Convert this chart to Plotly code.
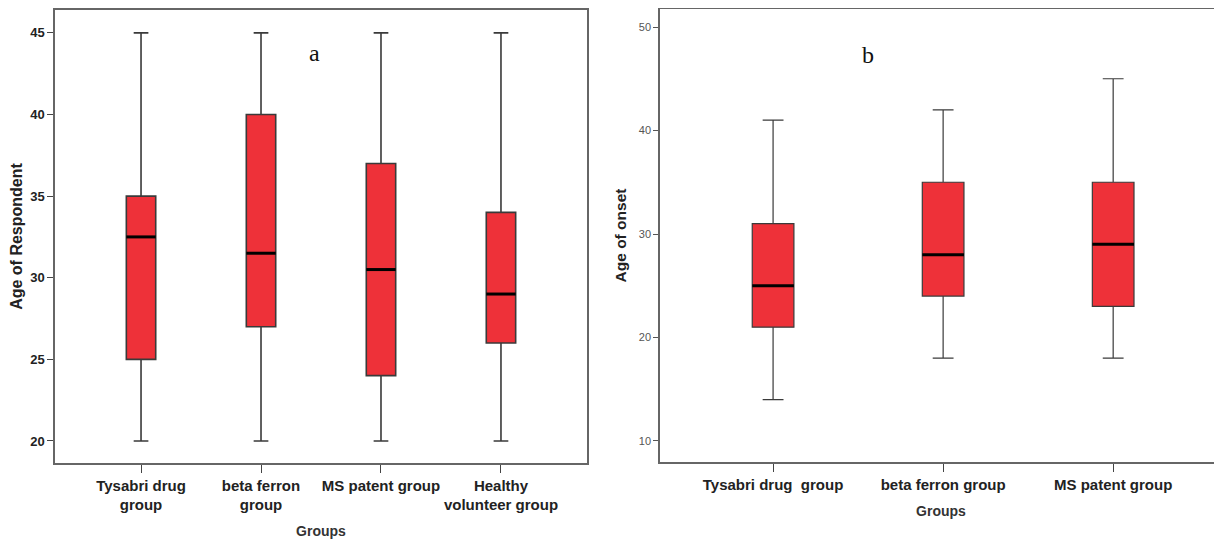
import plotly.graph_objects as go

# ---- Data: panel a (Age of Respondent) ----
groups_a = ["Tysabri drug<br>group", "beta ferron<br>group", "MS patent group", "Healthy<br>volunteer group"]
min_a = [20, 20, 20, 20]
q1_a = [25, 27, 24, 26]
med_a = [32.5, 31.5, 30.5, 29]
q3_a = [35, 40, 37, 34]
max_a = [45, 45, 45, 45]
yticks_a = [20, 25, 30, 35, 40, 45]

# ---- Data: panel b (Age of onset) ----
groups_b = ["Tysabri drug&nbsp; group", "beta ferron group", "MS patent group"]
min_b = [14, 18, 18]
q1_b = [21, 24, 23]
med_b = [25, 28, 29]
q3_b = [31, 35, 35]
max_b = [41, 42, 45]
yticks_b = [10, 20, 30, 40, 50]

RED = "#EE3139"
EDGE = "#3a3a3a"
BW = 0.245  # box width in category units

fig = go.Figure()

def add_panel(n, mins, q1, med, q3, maxs, xa, ya, lw):
    pos = list(range(n))
    fig.add_trace(go.Box(
        x=pos, q1=q1, median=med, q3=q3, lowerfence=mins, upperfence=maxs,
        width=BW, whiskerwidth=0.5, fillcolor=RED,
        line=dict(color=EDGE, width=lw), boxpoints=False,
        xaxis=xa, yaxis=ya, showlegend=False, hoverinfo="skip",
    ))
    xs, ys = [], []
    for i, m in enumerate(med):
        xs += [i - BW / 2, i + BW / 2, None]
        ys += [m, m, None]
    fig.add_trace(go.Scatter(
        x=xs, y=ys, mode="lines", line=dict(color="#000000", width=3),
        xaxis=xa, yaxis=ya, showlegend=False, hoverinfo="skip",
    ))

add_panel(len(groups_a), min_a, q1_a, med_a, q3_a, max_a, "x", "y", 1.6)
add_panel(len(groups_b), min_b, q1_b, med_b, q3_b, max_b, "x2", "y2", 1.2)

# page has an 8px body margin: size figure to fill the remaining window
OFF = 8
W, H = 1222 - OFF, 539 - OFF

def px(X):
    return min(1.0, max(0.0, (X - OFF) / W))

def py(Y):
    return min(1.0, max(0.0, 1 - (Y - OFF) / H))

frame = dict(showline=True, linecolor="#666666", linewidth=1.5, showgrid=False,
             zeroline=False, automargin=False)

fig.update_layout(
    width=W, height=H, margin=dict(l=0, r=0, t=0, b=0),
    paper_bgcolor="white", plot_bgcolor="white",
    xaxis=dict(domain=[px(55), px(587)], anchor="y", range=[-0.717, 3.717],
               tickvals=list(range(len(groups_a))), ticktext=groups_a,
               ticks="outside", ticklen=8, tickcolor="#444", mirror=True,
               tickfont=dict(family="Liberation Sans Narrow, Arial Narrow, Arial", size=15, color="#222", weight="bold"),
               title=dict(text="Groups", font=dict(family="Arial", size=14, color="#333", weight="bold"), standoff=25),
               **frame),
    yaxis=dict(domain=[py(463), py(10)], anchor="x", range=[18.65, 46.4],
               tickvals=yticks_a, ticks="outside", ticklen=6, tickcolor="#444", mirror=True,
               tickfont=dict(family="Liberation Sans Narrow, Arial Narrow, Arial", size=13, color="#222", weight="bold"),
               title=dict(text="Age of Respondent", font=dict(family="Arial", size=16, color="#222", weight="bold"), standoff=8),
               **frame),
    xaxis2=dict(domain=[px(660), 1.0], anchor="y2", range=[-0.665, 2.64],
                tickvals=list(range(len(groups_b))), ticktext=groups_b,
                ticks="outside", ticklen=8, tickcolor="#444", mirror=True,
                tickfont=dict(family="Arial", size=15, color="#222", weight="bold"),
                title=dict(text="Groups", font=dict(family="Arial", size=14, color="#333", weight="bold"), standoff=14),
                **frame),
    yaxis2=dict(domain=[py(462), py(9)], anchor="x2", range=[7.97, 51.74],
                tickvals=yticks_b, ticks="outside", ticklen=5, tickcolor="#555", mirror=False,
                tickfont=dict(family="Arial", size=11, color="#555"),
                title=dict(text="Age of onset", font=dict(family="Arial", size=15.5, color="#222", weight="bold"), standoff=8),
                **frame),
    annotations=[
        dict(text="a", xref="paper", yref="paper", x=px(314), y=py(53), showarrow=False,
             xanchor="center", yanchor="middle",
             font=dict(family="Liberation Serif, DejaVu Serif, serif", size=24, color="#111")),
        dict(text="b", xref="paper", yref="paper", x=px(868), y=py(55), showarrow=False,
             xanchor="center", yanchor="middle",
             font=dict(family="Liberation Serif, DejaVu Serif, serif", size=24, color="#111")),
    ],
)

fig.write_html("out.html")
